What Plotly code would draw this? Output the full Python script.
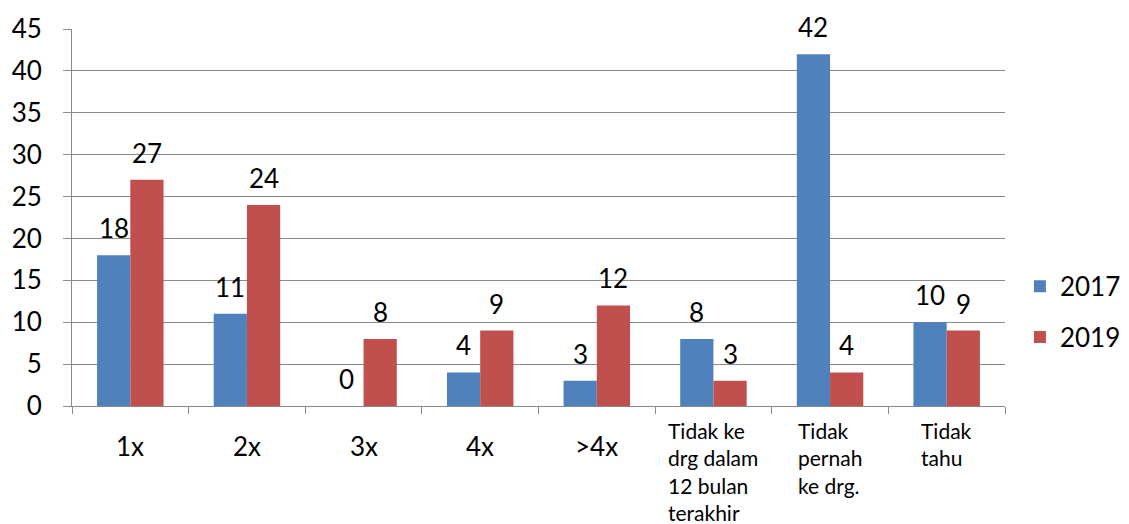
import plotly.graph_objects as go

categories = ["1x", "2x", "3x", "4x", ">4x",
              "Tidak ke drg dalam 12 bulan terakhir",
              "Tidak pernah ke drg.", "Tidak tahu"]
category_labels = ["1x", "2x", "3x", "4x", ">4x",
                   "Tidak ke<br>drg dalam<br>12 bulan<br>terakhir",
                   "Tidak<br>pernah<br>ke drg.", "Tidak<br>tahu"]
values_2017 = [18, 11, 0, 4, 3, 8, 42, 10]
values_2019 = [27, 24, 8, 9, 12, 3, 4, 9]
series_names = ["2017", "2019"]
colors = ["#4F81BD", "#C0504D"]

FONT = "Lato, 'Open Sans', sans-serif"
GRID = "#8a8a8a"
BARGAP = 0.43
# page body has an 8px margin, so the figure is shifted by 8px
ML, MR, MT, MB = 64, 124, 21, 118
W, H = 1121, 516
cat_px = (W - ML - MR) / len(categories)
bar_px = cat_px * (1 - BARGAP) / 2

fig = go.Figure()
for i, (name, vals, col) in enumerate(zip(series_names, [values_2017, values_2019], colors)):
    fig.add_trace(go.Bar(
        x=categories, y=vals, name=name, legendgroup=name,
        marker=dict(color=col, line=dict(width=0)),
        cliponaxis=False,
    ))
    shift = (i - 0.5) * bar_px
    for cat, v in zip(categories, vals):
        fig.add_annotation(
            x=cat, y=v, xref="x", yref="y", text=str(v), showarrow=False,
            xanchor="center", yanchor="bottom", xshift=shift, yshift=9,
            font=dict(size=26, color="#000000", family=FONT),
        )

for cat, lab in zip(categories, category_labels):
    multi = "<br>" in lab
    fig.add_annotation(
        x=cat, y=0, xref="x", yref="y",
        text=lab, showarrow=False,
        xanchor="center", yanchor="top", align="left",
        yshift=-10 if multi else -22,
        font=dict(size=21 if multi else 26, color="#000000", family=FONT),
    )

fig.update_layout(
    width=W, height=H,
    margin=dict(l=ML, r=MR, t=MT, b=MB, autoexpand=False),
    paper_bgcolor="white", plot_bgcolor="white",
    barmode="group", bargap=BARGAP, bargroupgap=0,
    font=dict(family=FONT, size=24, color="#000000"),
    showlegend=True,
    legend=dict(x=1.016, y=0.25, xanchor="left", yanchor="middle",
                font=dict(size=26, family=FONT, color="#000000"),
                tracegroupgap=14, traceorder="grouped",
                bgcolor="rgba(0,0,0,0)"),
)
fig.update_xaxes(
    showline=True, linecolor=GRID, linewidth=1, automargin=False,
    ticks="outside", ticklen=7, tickcolor=GRID, tickson="boundaries",
    showticklabels=False, showgrid=False,
)
fig.update_yaxes(
    range=[0, 45], dtick=5, tick0=0, automargin=False,
    showline=True, linecolor=GRID, linewidth=1,
    showgrid=True, gridcolor=GRID, gridwidth=1,
    ticks="outside", ticklen=8, tickcolor=GRID,
    tickfont=dict(size=26, family=FONT, color="#000000"),
    ticklabelstandoff=16, zeroline=False,
)

fig.write_html("out.html")
